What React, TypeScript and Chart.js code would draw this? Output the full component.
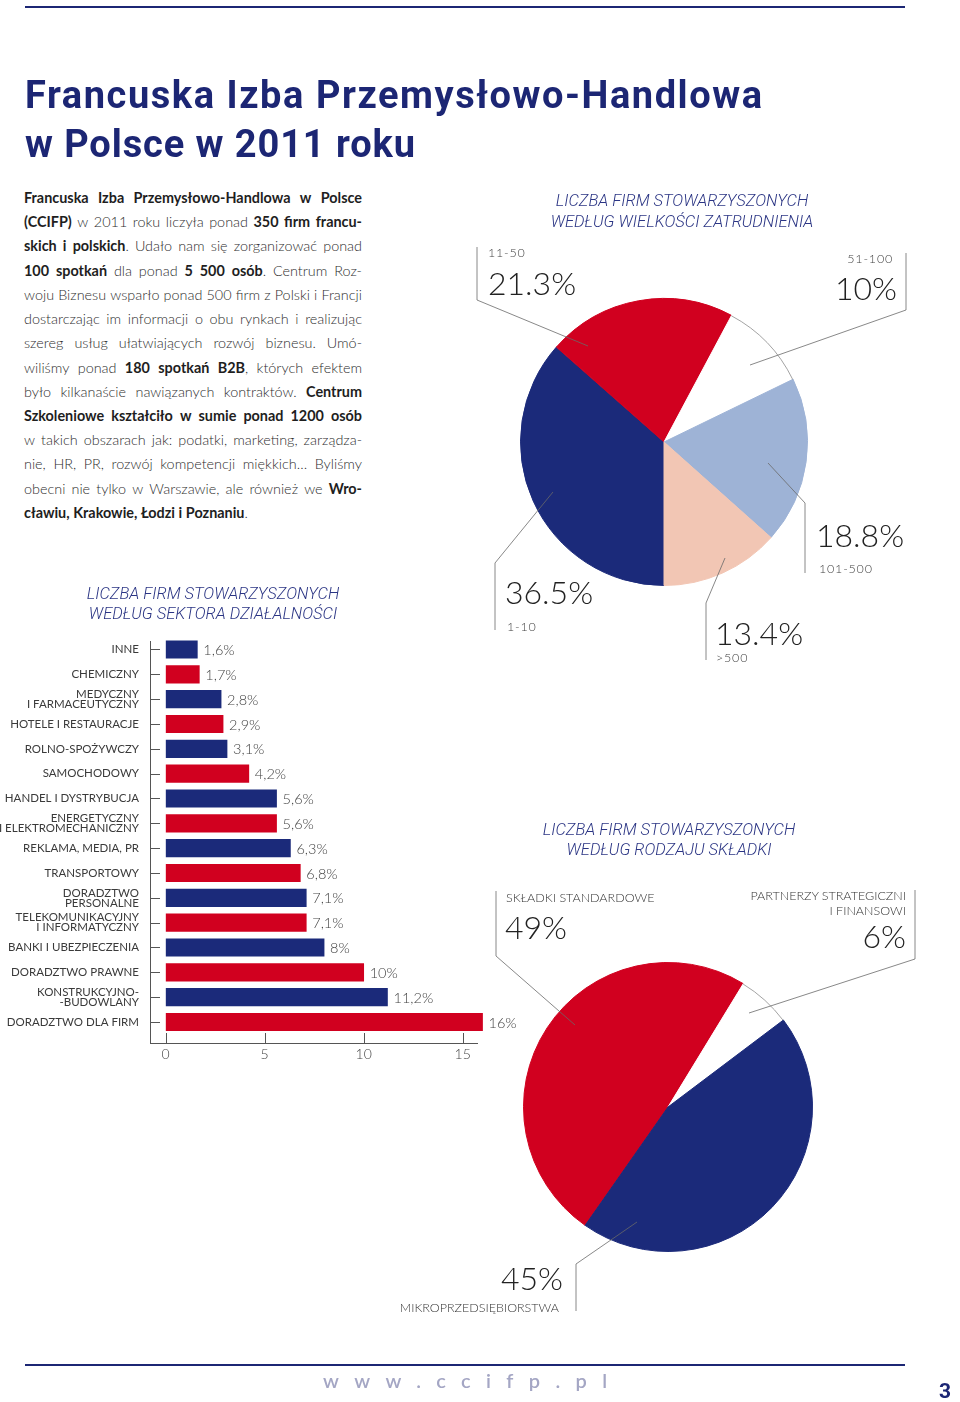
import React, { useEffect, useRef } from "react";
import { Chart, registerables } from "chart.js";

Chart.register(...registerables);
Chart.defaults.font.family = "Lato, 'Open Sans', sans-serif";

// ---------- DATA ----------
const SECTORS: string[][] = [
  ["INNE"],
  ["CHEMICZNY"],
  ["MEDYCZNY", "I FARMACEUTYCZNY"],
  ["HOTELE I RESTAURACJE"],
  ["ROLNO-SPOŻYWCZY"],
  ["SAMOCHODOWY"],
  ["HANDEL I DYSTRYBUCJA"],
  ["ENERGETYCZNY", "I ELEKTROMECHANICZNY"],
  ["REKLAMA, MEDIA, PR"],
  ["TRANSPORTOWY"],
  ["DORADZTWO", "PERSONALNE"],
  ["TELEKOMUNIKACYJNY", "I INFORMATYCZNY"],
  ["BANKI I UBEZPIECZENIA"],
  ["DORADZTWO PRAWNE"],
  ["KONSTRUKCYJNO-", "-BUDOWLANY"],
  ["DORADZTWO DLA FIRM"],
];
const SECTOR_VALUES = [1.6, 1.7, 2.8, 2.9, 3.1, 4.2, 5.6, 5.6, 6.3, 6.8, 7.1, 7.1, 8, 10, 11.2, 16];
const X_TICKS = [0, 5, 10, 15];

const SIZE_LABELS = ["1-10", "11-50", "51-100", "101-500", ">500"];
const SIZE_VALUES = [36.5, 21.3, 10, 18.8, 13.4];

const FEE_LABELS: string[][] = [["SKŁADKI STANDARDOWE"], ["PARTNERZY STRATEGICZNI", "I FINANSOWI"], ["MIKROPRZEDSIĘBIORSTWA"]];
const FEE_VALUES = [49, 6, 45];

const PARAGRAPH = [
  "**Francuska Izba Przemysłowo-Handlowa w Polsce**",
  "**(CCIFP)** w 2011 roku liczyła ponad **350 firm francu-**",
  "**skich i polskich**. Udało nam się zorganizować ponad",
  "**100 spotkań** dla ponad **5 500 osób**. Centrum Roz-",
  "woju Biznesu wsparło ponad 500 firm z Polski i Francji",
  "dostarczając im informacji o obu rynkach i realizując",
  "szereg usług ułatwiających rozwój biznesu. Umó-",
  "wiliśmy ponad **180 spotkań B2B**, których efektem",
  "było kilkanaście nawiązanych kontraktów. **Centrum**",
  "**Szkoleniowe kształciło w sumie ponad 1200 osób**",
  "w takich obszarach jak: podatki, marketing, zarządza-",
  "nie, HR, PR, rozwój kompetencji miękkich… Byliśmy",
  "obecni nie tylko w Warszawie, ale również we **Wro-**",
  "**cławiu, Krakowie, Łodzi i Poznaniu**.",
];

// ---------- STYLES ----------
const NAVY = "#1b2a7a";
const RED = "#d1001f";
const LIGHTBLUE = "#9eb3d6";
const PEACH = "#f2c6b4";
const WHITE = "#ffffff";
const AXIS = "#555555";
const TITLE_BLUE = "#1c2674";
const LEADER = "#6a6a6a";

const SIZE_COLORS = [NAVY, RED, WHITE, LIGHTBLUE, PEACH];
const FEE_COLORS = [RED, WHITE, NAVY];

const pct = (v: number) => `${v}%`;
const pctComma = (v: number) => `${String(v).replace(".", ",")}%`;

type Seg = { t: string; b: boolean };
function parseLine(s: string): Seg[][] {
  const words: Seg[][] = [];
  let bold = false;
  let cur: Seg[] = [];
  let buf = "";
  const flush = () => {
    if (buf) {
      cur.push({ t: buf, b: bold });
      buf = "";
    }
  };
  for (let i = 0; i < s.length; i++) {
    if (s[i] === "*" && s[i + 1] === "*") {
      flush();
      bold = !bold;
      i++;
      continue;
    }
    if (s[i] === " ") {
      flush();
      if (cur.length) words.push(cur);
      cur = [];
      continue;
    }
    buf += s[i];
  }
  flush();
  if (cur.length) words.push(cur);
  return words;
}

const whiteArcOutline = {
  id: "whiteArcOutline",
  afterDatasetsDraw(chart: any) {
    const ctx = chart.ctx;
    const meta = chart.getDatasetMeta(0);
    const colors = chart.data.datasets[0].backgroundColor as string[];
    meta.data.forEach((arc: any, i: number) => {
      if (colors[i] !== WHITE) return;
      const p = arc.getProps(["x", "y", "startAngle", "endAngle", "outerRadius"], true);
      ctx.save();
      ctx.strokeStyle = "#8c8c8c";
      ctx.lineWidth = 0.8;
      ctx.beginPath();
      ctx.arc(p.x, p.y, p.outerRadius - 0.4, p.startAngle, p.endAngle);
      ctx.stroke();
      ctx.restore();
    });
  },
};

const inwardTicks = {
  id: "inwardTicks",
  afterDraw(chart: any) {
    const { ctx, chartArea: ca } = chart;
    const xs = chart.scales.x;
    const ys = chart.scales.y;
    ctx.save();
    ctx.strokeStyle = AXIS;
    ctx.lineWidth = 1;
    ys.ticks.forEach((t: any) => {
      const py = Math.round(ys.getPixelForValue(t.value)) + 0.5;
      ctx.beginPath();
      ctx.moveTo(ca.left, py);
      ctx.lineTo(ca.left + 10, py);
      ctx.stroke();
    });
    xs.ticks.forEach((t: any) => {
      const px = Math.round(xs.getPixelForValue(t.value)) + 0.5;
      ctx.beginPath();
      ctx.moveTo(px, ca.bottom);
      ctx.lineTo(px, ca.bottom - 10);
      ctx.stroke();
    });
    ctx.restore();
  },
};

const barValueLabels = {
  id: "barValueLabels",
  afterDatasetsDraw(chart: any) {
    const ctx = chart.ctx;
    const meta = chart.getDatasetMeta(0);
    ctx.save();
    ctx.font = "300 14.5px Lato";
    ctx.fillStyle = "#444";
    ctx.textBaseline = "middle";
    ctx.textAlign = "left";
    meta.data.forEach((bar: any, i: number) => {
      const p = bar.getProps(["x", "y"], true);
      ctx.fillText(pctComma(SECTOR_VALUES[i]), p.x + 6, p.y + 1);
    });
    ctx.restore();
  },
};

export default function App() {
  const barRef = useRef<HTMLCanvasElement>(null);
  const pie1Ref = useRef<HTMLCanvasElement>(null);
  const pie2Ref = useRef<HTMLCanvasElement>(null);

  useEffect(() => {
    const charts: Chart[] = [];

    charts.push(
      new Chart(pie1Ref.current!, {
        type: "pie",
        data: {
          labels: SIZE_LABELS,
          datasets: [
            {
              data: SIZE_VALUES,
              backgroundColor: SIZE_COLORS,
              borderColor: SIZE_COLORS,
              borderWidth: 1,
            },
          ],
        },
        options: {
          animation: false,
          responsive: false,
          rotation: 180,
          layout: { padding: 6 },
          plugins: { legend: { display: false }, tooltip: { enabled: false } },
        },
        plugins: [whiteArcOutline],
      } as any)
    );

    charts.push(
      new Chart(pie2Ref.current!, {
        type: "pie",
        data: {
          labels: FEE_LABELS.map((l) => l.join(" ")),
          datasets: [
            {
              data: FEE_VALUES,
              backgroundColor: FEE_COLORS,
              borderColor: FEE_COLORS,
              borderWidth: 1,
            },
          ],
        },
        options: {
          animation: false,
          responsive: false,
          rotation: 215,
          layout: { padding: 5 },
          plugins: { legend: { display: false }, tooltip: { enabled: false } },
        },
        plugins: [whiteArcOutline],
      } as any)
    );

    charts.push(
      new Chart(barRef.current!, {
        type: "bar",
        data: {
          datasets: [
            {
              data: SECTOR_VALUES.map((v, i) => ({ x: v, y: i })),
              backgroundColor: SECTOR_VALUES.map((_, i) => (i % 2 === 0 ? NAVY : RED)),
              barThickness: 17.5,
              clip: false,
            },
          ],
        },
        options: {
          indexAxis: "y",
          animation: false,
          responsive: false,
          layout: { padding: { top: 21, right: 43, bottom: 0, left: 0 } },
          plugins: { legend: { display: false }, tooltip: { enabled: false } },
          scales: {
            x: {
              type: "linear",
              offset: false,
              min: -0.79,
              max: 15.72,
              afterBuildTicks: (s: any) => {
                s.ticks = X_TICKS.map((v) => ({ value: v }));
              },
              afterFit: (s: any) => {
                s.height = 37;
              },
              grid: { display: true, drawOnChartArea: false, drawTicks: false, offset: false },
              border: { display: true, color: AXIS, width: 1 },
              ticks: {
                padding: 3,
                maxRotation: 0,
                color: "#444",
                font: { size: 14, weight: "300" },
              },
            },
            y: {
              type: "linear",
              offset: false,
              reverse: true,
              min: -0.342,
              max: 15.846,
              afterBuildTicks: (s: any) => {
                s.ticks = SECTORS.map((_, i) => ({ value: i }));
              },
              afterFit: (s: any) => {
                s.width = 150;
              },
              grid: { display: true, drawOnChartArea: false, drawTicks: false, offset: false },
              border: { display: true, color: AXIS, width: 1 },
              ticks: {
                autoSkip: false,
                padding: 11,
                color: "#3a3a3a",
                font: { size: 11.5, weight: "400", lineHeight: 0.87 },
                callback: (v: any) => SECTORS[v as number],
              },
            },
          },
        },
        plugins: [inwardTicks, barValueLabels],
      } as any)
    );

    return () => charts.forEach((c) => c.destroy());
  }, []);

  const bigFont = { fontFamily: "Lato", fontWeight: 300, fontSize: 32, fill: "#222" } as const;
  const smallFont = { fontFamily: "Lato", fontWeight: 300, fontSize: 12.5, fill: "#444", letterSpacing: 0.8 } as const;
  const capsFont = { fontFamily: "Lato", fontWeight: 300, fontSize: 12.5, fill: "#333" } as const;
  const chartTitle = {
    fontFamily: "Roboto",
    fontWeight: 300,
    fontStyle: "italic",
    fontSize: 16.5,
    fill: "#2b3584",
    textAnchor: "middle",
  } as const;

  return (
    <div style={{ position: "relative", width: 960, height: 1402, background: "#fff", overflow: "hidden" }}>
      <style>{`body{margin:0;background:#fff}`}</style>

      {/* paragraph */}
      <div
        style={{
          position: "absolute",
          left: 24,
          top: 186,
          width: 338,
          fontFamily: "Lato, sans-serif",
          fontSize: 14.4,
        }}
      >
        {PARAGRAPH.map((line, li) => {
          const words = parseLine(line);
          const last = li === PARAGRAPH.length - 1;
          return (
            <div
              key={li}
              style={{
                height: 24.23,
                lineHeight: "24.23px",
                display: "flex",
                justifyContent: last ? "flex-start" : "space-between",
                gap: last ? "0.25em" : 0,
                whiteSpace: "nowrap",
              }}
            >
              {words.map((w, wi) => (
                <span key={wi}>
                  {w.map((s, si) => (
                    <span
                      key={si}
                      style={{ fontWeight: s.b ? 700 : 300, color: s.b ? "#1e1e1e" : "#2e2e2e" }}
                    >
                      {s.t}
                    </span>
                  ))}
                </span>
              ))}
            </div>
          );
        })}
      </div>

      <canvas
        ref={pie1Ref}
        width={300}
        height={300}
        style={{ position: "absolute", left: 514, top: 292, width: 300, height: 300 }}
      />
      <canvas
        ref={pie2Ref}
        width={300}
        height={300}
        style={{ position: "absolute", left: 518, top: 957, width: 300, height: 300 }}
      />
      <canvas
        ref={barRef}
        width={520}
        height={460}
        style={{ position: "absolute", left: 0, top: 620, width: 520, height: 460 }}
      />

      <svg
        width={960}
        height={1402}
        style={{ position: "absolute", left: 0, top: 0, pointerEvents: "none" }}
      >
        {/* rules */}
        <line x1={25} y1={7} x2={905} y2={7} stroke={TITLE_BLUE} strokeWidth={2} />
        <line x1={25} y1={1365} x2={905} y2={1365} stroke={TITLE_BLUE} strokeWidth={2} />

        {/* page title */}
        <text
          x={25}
          y={108}
          fontFamily="Roboto"
          fontWeight={700}
          fontSize={38}
          fill={TITLE_BLUE}
          textLength={737}
          lengthAdjust="spacing"
        >
          Francuska Izba Przemysłowo-Handlowa
        </text>
        <text
          x={25}
          y={157}
          fontFamily="Roboto"
          fontWeight={700}
          fontSize={38}
          fill={TITLE_BLUE}
          textLength={390}
          lengthAdjust="spacing"
        >
          w Polsce w 2011 roku
        </text>

        {/* chart titles */}
        <text x={682} y={206} {...chartTitle}>LICZBA FIRM STOWARZYSZONYCH</text>
        <text x={682} y={226.5} {...chartTitle}>WEDŁUG WIELKOŚCI ZATRUDNIENIA</text>
        <text x={213} y={598.5} {...chartTitle}>LICZBA FIRM STOWARZYSZONYCH</text>
        <text x={213} y={618.5} {...chartTitle}>WEDŁUG SEKTORA DZIAŁALNOŚCI</text>
        <text x={669} y={834.5} {...chartTitle}>LICZBA FIRM STOWARZYSZONYCH</text>
        <text x={669} y={855} {...chartTitle}>WEDŁUG RODZAJU SKŁADKI</text>

        {/* leader lines */}
        <g fill="none" stroke={LEADER} strokeWidth={0.8}>
          <polyline points="477,247 477,300 588,346" />
          <polyline points="906,253 906,310 750,365" />
          <polyline points="768,463 805,503 805,573" />
          <polyline points="553,492 495,563 495,630" />
          <polyline points="725,558 706,603 706,660" />
          <polyline points="496,891 496,956 575,1025" />
          <polyline points="915,890 915,959 749,1013" />
          <polyline points="576,1311 576,1264 637,1222" />
        </g>

        {/* pie 1 labels */}
        <text x={488} y={257} {...smallFont}>{SIZE_LABELS[1]}</text>
        <text x={488} y={295} {...bigFont}>{pct(SIZE_VALUES[1])}</text>
        <text x={893} y={263} textAnchor="end" {...smallFont}>{SIZE_LABELS[2]}</text>
        <text x={897} y={300} textAnchor="end" {...bigFont}>{pct(SIZE_VALUES[2])}</text>
        <text x={816} y={546.5} {...bigFont}>{pct(SIZE_VALUES[3])}</text>
        <text x={819} y={573} {...smallFont}>{SIZE_LABELS[3]}</text>
        <text x={505} y={603.5} {...bigFont}>{pct(SIZE_VALUES[0])}</text>
        <text x={507} y={630.5} {...smallFont}>{SIZE_LABELS[0]}</text>
        <text x={715} y={645} {...bigFont}>{pct(SIZE_VALUES[4])}</text>
        <text x={716} y={661.5} {...smallFont}>{SIZE_LABELS[4]}</text>

        {/* pie 2 labels */}
        <text x={506} y={901.5} {...capsFont}>{FEE_LABELS[0][0]}</text>
        <text x={505} y={938.5} {...bigFont}>{pct(FEE_VALUES[0])}</text>
        <text x={906} y={900} textAnchor="end" {...capsFont}>{FEE_LABELS[1][0]}</text>
        <text x={906} y={915} textAnchor="end" {...capsFont}>{FEE_LABELS[1][1]}</text>
        <text x={906} y={947.5} textAnchor="end" {...bigFont}>{pct(FEE_VALUES[1])}</text>
        <text x={563} y={1290} textAnchor="end" {...bigFont}>{pct(FEE_VALUES[2])}</text>
        <text x={559} y={1311.5} textAnchor="end" {...capsFont}>{FEE_LABELS[2][0]}</text>

        {/* footer */}
        <text
          x={323}
          y={1388}
          fontFamily="Lato"
          fontWeight={600}
          fontSize={20}
          fill="#a4a6c4"
          textLength={284}
          lengthAdjust="spacing"
        >
          www.ccifp.pl
        </text>
        <text x={939} y={1398} fontFamily="Roboto" fontWeight={700} fontSize={21} fill={TITLE_BLUE}>
          3
        </text>
      </svg>
    </div>
  );
}
